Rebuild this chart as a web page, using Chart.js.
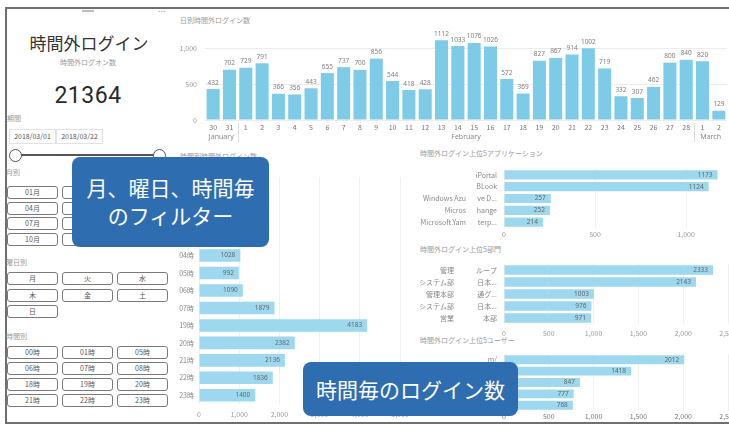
<!DOCTYPE html>
<html>
<head>
<meta charset="utf-8">
<script src="https://cdn.jsdelivr.net/npm/chart.js@4.4.0/dist/chart.umd.min.js"></script>
<style>
  html, body { margin: 0; padding: 0; background: #fff; }
  #page { position: relative; width: 729px; height: 425px; overflow: hidden;
          font-family: "Noto Sans CJK JP", "Noto Sans", sans-serif; color: #333; }
  .abs { position: absolute; }
  .small { font-size: 7px; color: #9a9a9a; white-space: nowrap; }
  .btn { position: absolute; width: 49px; height: 11px; border: 1px solid #7a7a7a; border-radius: 3px;
         font-size: 7px; line-height: 11px; text-align: center; color: #555; background: #fff; }
  .datebox { position: absolute; height: 13px; border: 1px solid #e2e2e2; font-size: 7px; line-height: 13px;
             text-align: center; color: #555; }
  .callout { position: absolute; background: #2e6db0; border-radius: 8px; color: #fff; text-align: center; }
  canvas { position: absolute; }
</style>
</head>
<body>
<div id="page">
  <!-- frame -->
  <div class="abs" style="left:5px;top:7px;width:740px;height:413px;border:2px solid #707070;border-right:none;"></div>

  <!-- left card -->
  <div class="abs" style="left:82px;top:10px;width:12px;height:2px;background:#bbb;"></div>
  <div class="abs" style="left:158px;top:2px;font-size:9px;color:#999;">...</div>
  <div class="abs" style="left:0;top:30px;width:178px;text-align:center;font-size:17px;color:#333;">時間外ログイン</div>
  <div class="abs small" style="left:0;top:57px;width:176px;text-align:center;">時間外ログオン数</div>
  <div class="abs" style="left:0;top:82px;width:176px;text-align:center;font-size:23px;font-family:Roboto,sans-serif;letter-spacing:0.5px;color:#2a2a2a;">21364</div>
  <div class="abs small" style="left:7px;top:113px;">期間</div>
  <div class="datebox" style="left:9px;top:129px;width:45px;">2018/03/01</div>
  <div class="datebox" style="left:56px;top:129px;width:45px;">2018/03/22</div>
  <div class="abs" style="left:20px;top:154px;width:136px;height:2px;background:#555;"></div>
  <div class="abs" style="left:9px;top:149px;width:11px;height:11px;border:1.5px solid #555;border-radius:50%;background:#fff;"></div>
  <div class="abs" style="left:153px;top:149px;width:11px;height:11px;border:1.5px solid #555;border-radius:50%;background:#fff;"></div>

  <div class="abs small" style="left:6px;top:167px;">月別</div>
  <div class="abs small" style="left:6px;top:257px;">曜日別</div>
  <div class="abs small" style="left:6px;top:331px;">時間別</div>
  <div id="buttons" class="abs" style="left:0;top:0;"></div>

  <!-- chart titles -->
  <div class="abs small" style="left:180px;top:15px;">日別時間外ログイン数</div>
  <div class="abs small" style="left:180px;top:151px;">時間別時間外ログイン数</div>
  <div class="abs small" style="left:420px;top:148px;">時間外ログイン上位5アプリケーション</div>
  <div class="abs small" style="left:420px;top:244px;">時間外ログイン上位5部門</div>
  <div class="abs small" style="left:420px;top:335px;">時間外ログイン上位5ユーザー</div>

  <canvas id="userChart" width="319" height="72" style="left:410px;top:350px;background:#fff;"></canvas>
  <canvas id="dailyChart" width="557" height="120" style="left:172px;top:28px;"></canvas>
  <canvas id="hourChart" width="236" height="252" style="left:172px;top:168px;"></canvas>
  <canvas id="appChart" width="319" height="80" style="left:410px;top:162px;"></canvas>
  <canvas id="deptChart" width="319" height="82" style="left:410px;top:258px;"></canvas>

  <!-- callouts -->
  <div class="callout" style="left:72px;top:157px;width:197px;height:90px;font-size:21px;line-height:28px;padding-top:16px;box-sizing:border-box;">月、曜日、時間毎<br>のフィルター</div>
  <div class="callout" style="left:303px;top:362px;width:215px;height:54px;font-size:21px;line-height:54px;">時間毎のログイン数</div>
</div>

<script>
// Data
const dayLabels = ['30','31','1','2','3','4','5','6','7','8','9','10','11','12','13','14','15','16','17','18','19','20','21','22','23','24','25','26','27','28','1','2'];
const dayMonths = ['January','January',
  'February','February','February','February','February','February','February','February','February','February',
  'February','February','February','February','February','February','February','February','February','February',
  'February','February','February','February','February','February','February','February',
  'March','March'];
const dailyLogins = [432,702,729,791,366,356,443,655,737,700,856,544,418,428,1112,1033,1076,1026,572,369,827,867,914,1002,719,332,307,462,800,840,820,129];
const dailyTicks = [0, 500, 1000];

const hourLabels = ['00時','01時','02時','03時','04時','05時','06時','07時','19時','20時','21時','22時','23時'];
const hourLogins = [1600,1200,900,738,1028,992,1090,1879,4183,2382,2136,1836,1400];
const hourTicks = [0, 1000, 2000, 3000, 4000, 5000];

const appNamesLeft = ['','','Windows Azu','Micros','Microsoft.Yam'];
const appNamesRight = ['iPortal','BLook','ve D...','hange','terp...'];
const appLogins = [1173,1124,257,252,214];
const appTicks = [0, 500, 1000];

const deptNamesLeft = ['管理','システム部','管理本部','システム部','営業'];
const deptNamesRight = ['ループ','日本...','通グ...','日本...','本部'];
const deptLogins = [2333,2143,1003,976,971];
const deptTicks = [0, 500, 1000, 1500, 2000, 2500];

const userNames = ['m/','m/','m/','m/','m/'];
const userLogins = [2012,1418,847,777,768];
const userTicks = [0, 500, 1000, 1500, 2000, 2500];

const monthButtons = ['01月','02月','03月','04月','05月','06月','07月','08月','09月','10月','11月','12月'];
const dayButtons = ['月','火','水','木','金','土','日'];
const hourButtons = ['00時','01時','05時','06時','07時','08時','18時','19時','20時','21時','22時','23時'];

// slicer buttons
const btnBox = document.getElementById('buttons');
const colX = [7, 62, 117];
function addButtons(list, rowTops) {
  list.forEach((txt, i) => {
    const d = document.createElement('div');
    d.className = 'btn';
    d.style.left = colX[i % 3] + 'px';
    d.style.top = rowTops[Math.floor(i / 3)] + 'px';
    d.textContent = txt;
    btnBox.appendChild(d);
  });
}
addButtons(monthButtons, [186, 202, 217, 233]);
addButtons(dayButtons, [272, 289, 305]);
addButtons(hourButtons, [346, 362, 378, 394]);

Chart.defaults.font.family = '"Noto Sans CJK JP", "Noto Sans", sans-serif';
Chart.defaults.color = '#999';

// fixed axis sizes so the plot areas land where they should
function fixSize(size) {
  return function (scale) {
    if (scale.isHorizontal()) scale.height = size; else scale.width = size;
    scale.paddingLeft = 0; scale.paddingRight = 0; scale.paddingTop = 0; scale.paddingBottom = 0;
  };
}
function useTicks(values) {
  return function (scale) { scale.ticks = values.map(v => ({ value: v })); };
}

// value labels on bars
const barValueLabels = {
  id: 'barValueLabels',
  afterDatasetsDraw(chart, args, opts) {
    const ctx = chart.ctx;
    const values = chart.data.datasets[0].data;
    ctx.save();
    ctx.font = opts.font || '7px "Noto Sans"';
    ctx.fillStyle = opts.color || '#777';
    chart.getDatasetMeta(0).data.forEach((bar, i) => {
      const txt = String(values[i]);
      if (chart.options.indexAxis === 'y') {
        ctx.textAlign = 'right'; ctx.textBaseline = 'middle';
        ctx.fillText(txt, bar.x - 5, bar.y);
      } else {
        ctx.textAlign = 'center'; ctx.textBaseline = 'bottom';
        ctx.fillText(txt, bar.x, bar.y - 3);
      }
    });
    ctx.restore();
  }
};

// month names under the day labels
const monthAxis = {
  id: 'monthAxis',
  afterDraw(chart) {
    const ctx = chart.ctx;
    const x = chart.scales.x;
    const bottom = chart.chartArea.bottom;
    const half = (x.getPixelForValue(1) - x.getPixelForValue(0)) / 2;
    ctx.save();
    ctx.font = '7px "Noto Sans"';
    ctx.fillStyle = '#888';
    ctx.strokeStyle = '#dcdcdc';
    ctx.lineWidth = 1;
    ctx.textAlign = 'center';
    ctx.textBaseline = 'middle';
    let start = 0;
    for (let i = 1; i <= dayMonths.length; i++) {
      if (i === dayMonths.length || dayMonths[i] !== dayMonths[start]) {
        const left = x.getPixelForValue(start) - half;
        const right = x.getPixelForValue(i - 1) + half;
        ctx.fillText(dayMonths[start], (left + right) / 2, bottom + 17);
        if (i < dayMonths.length) {
          ctx.beginPath();
          ctx.moveTo(Math.round(right) + 0.5, bottom + 3);
          ctx.lineTo(Math.round(right) + 0.5, bottom + 22);
          ctx.stroke();
        }
        start = i;
      }
    }
    ctx.restore();
  }
};

// left part of the two-level category labels
const leftLabels = {
  id: 'leftLabels',
  afterDraw(chart, args, opts) {
    if (!Array.isArray(opts.labels)) return;
    const ctx = chart.ctx;
    const y = chart.scales.y;
    ctx.save();
    ctx.font = '7px "Noto Sans CJK JP"';
    ctx.fillStyle = '#888';
    ctx.textAlign = 'right';
    ctx.textBaseline = 'middle';
    opts.labels.forEach((t, i) => ctx.fillText(t, opts.x, y.getPixelForValue(i)));
    ctx.restore();
  }
};

// daily chart
new Chart(document.getElementById('dailyChart'), {
  type: 'bar',
  data: {
    labels: dayLabels,
    datasets: [{
      data: dailyLogins,
      backgroundColor: '#7ecbe7',
      barPercentage: 0.8,
      categoryPercentage: 1
    }]
  },
  options: {
    responsive: false,
    animation: false,
    devicePixelRatio: 1,
    locale: 'en-US',
    layout: { padding: { top: 6, right: 2 } },
    plugins: {
      legend: { display: false },
      tooltip: { enabled: false },
      barValueLabels: { font: '6.5px "Noto Sans"', color: '#808080' }
    },
    scales: {
      x: {
        grid: { display: false, drawTicks: false },
        border: { display: false },
        ticks: { font: { size: 7 }, color: '#777', padding: 3, maxRotation: 0, autoSkip: false },
        afterFit: fixSize(28)
      },
      y: {
        min: 0,
        max: 1200,
        grid: { color: '#ececec', drawTicks: false },
        border: { display: false },
        ticks: { font: { size: 7 }, color: '#999', padding: 8, autoSkip: false },
        afterBuildTicks: useTicks(dailyTicks),
        afterFit: fixSize(33)
      }
    }
  },
  plugins: [barValueLabels, monthAxis]
});

// horizontal bar chart helper
function hBar(id, labels, values, opt) {
  return new Chart(document.getElementById(id), {
    type: 'bar',
    data: {
      labels: labels,
      datasets: [{
        data: values,
        backgroundColor: '#9dd8ee',
        barPercentage: opt.barPct,
        categoryPercentage: 1
      }]
    },
    options: {
      indexAxis: 'y',
      responsive: false,
      animation: false,
      devicePixelRatio: 1,
      locale: 'en-US',
      layout: { padding: { top: opt.padTop, right: opt.padRight } },
      plugins: {
        legend: { display: false },
        tooltip: { enabled: false },
        barValueLabels: { font: '6.5px "Noto Sans"', color: '#666' },
        leftLabels: { labels: opt.leftLabels || null, x: opt.leftX || 0 }
      },
      scales: {
        x: {
          min: 0,
          max: opt.max,
          grid: { color: '#f0f0f0', drawTicks: false },
          border: { display: false },
          ticks: { font: { size: 7 }, color: opt.tickColor || '#999', padding: opt.tickPad, maxRotation: 0, autoSkip: false },
          afterBuildTicks: useTicks(opt.ticks),
          afterFit: fixSize(opt.xHeight)
        },
        y: {
          grid: { display: false, drawTicks: false },
          border: { display: false },
          ticks: { font: { size: 7 }, color: '#888', padding: opt.yPad, autoSkip: false },
          afterFit: fixSize(opt.yWidth)
        }
      }
    },
    plugins: [barValueLabels, leftLabels]
  });
}

hBar('userChart', userNames, userLogins,
  { barPct: 0.78, padTop: 4, padRight: 1, max: 2500, ticks: userTicks, tickPad: 1, xHeight: 11, yPad: 7, yWidth: 94, tickColor: '#777777' });
hBar('hourChart', hourLabels, hourLogins,
  { barPct: 0.72, padTop: 9, padRight: 8, max: 5000, ticks: hourTicks, tickPad: 6, xHeight: 16, yPad: 5, yWidth: 27 });
hBar('appChart', appNamesRight, appLogins,
  { barPct: 0.78, padTop: 7, padRight: 2, max: 1225, ticks: appTicks, tickPad: 2, xHeight: 14, yPad: 7, yWidth: 94,
    leftLabels: appNamesLeft, leftX: 56 });
hBar('deptChart', deptNamesRight, deptLogins,
  { barPct: 0.78, padTop: 6, padRight: 1, max: 2500, ticks: deptTicks, tickPad: 5, xHeight: 16, yPad: 7, yWidth: 94,
    leftLabels: deptNamesLeft, leftX: 44 });
</script>
</body>
</html>
